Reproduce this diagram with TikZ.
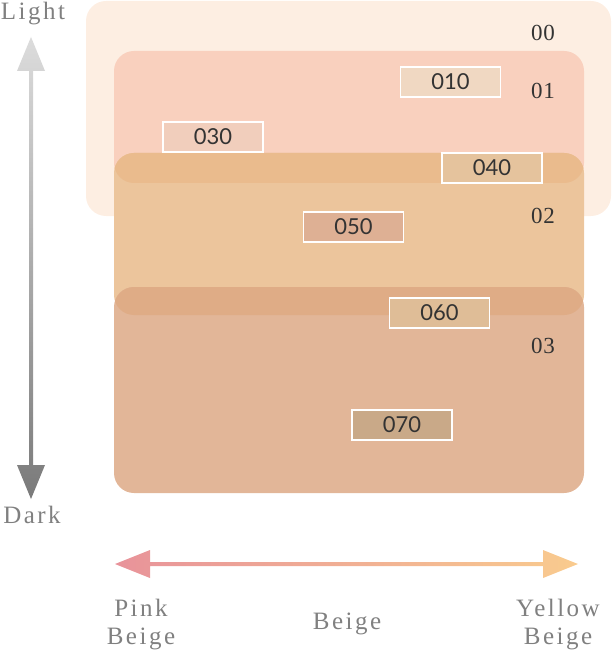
\documentclass[tikz,border=0pt]{standalone}
\usepackage{fontspec}
\newfontfamily\numfont{Lato}
\newfontfamily\levelfont[LetterSpace=4]{Liberation Serif}
\newfontfamily\lblfont[LetterSpace=10]{Liberation Serif}
\definecolor{LayerA}{HTML}{FDEEE2}
\definecolor{LayerB}{HTML}{F9D0BE}
\definecolor{LayerBC}{HTML}{EABB8D}
\definecolor{LayerC}{HTML}{ECC59C}
\definecolor{LayerCD}{HTML}{DFAC86}
\definecolor{LayerD}{HTML}{E2B698}
\definecolor{SwA}{HTML}{F0D8C2}
\definecolor{SwB}{HTML}{F1CEBC}
\definecolor{SwC}{HTML}{E5C39D}
\definecolor{SwD}{HTML}{DEB094}
\definecolor{SwE}{HTML}{DFBD97}
\definecolor{SwF}{HTML}{C9A988}
\definecolor{TxtClr}{HTML}{333333}
\definecolor{LblClr}{HTML}{808080}
\definecolor{LightClr}{HTML}{DCDCDC}
\definecolor{DarkClr}{HTML}{7A7A7A}
\definecolor{PinkClr}{HTML}{E8939A}
\definecolor{YellowClr}{HTML}{F9CB8E}
\tikzset{
  layer/.style={rounded corners=20pt},
  swatch/.style={draw=white,line width=1.2pt,minimum width=100pt,minimum height=30pt,
    inner sep=0pt,text=TxtClr,font=\numfont\fontsize{22}{22}\selectfont},
  level/.style={text=TxtClr,font=\levelfont\fontsize{23}{23}\selectfont},
  axislbl/.style={text=LblClr,align=center,
    font=\lblfont\fontsize{25}{28}\selectfont}
}

\begin{document}
\begin{tikzpicture}[x=1pt,y=-1pt]
\useasboundingbox (0,0) rectangle (612,652);

% layers
\fill[layer,fill=LayerA] (86,1) rectangle (611,216);
\fill[layer,fill=LayerB] (114,51) rectangle (584,183);
\fill[layer,fill=LayerC] (114,153) rectangle (584,315);
\begin{scope}
\clip[layer] (114,51) rectangle (584,183);
\fill[layer,fill=LayerBC] (114,153) rectangle (584,315);
\end{scope}
\fill[layer,fill=LayerD] (114,287) rectangle (584,493);
\begin{scope}
\clip[layer] (114,153) rectangle (584,315);
\fill[layer,fill=LayerCD] (114,287) rectangle (584,493);
\end{scope}

\node[level] (l00) at (543,33) {00};
\node[level] (l01) at (543,91) {01};
\node[level] (l02) at (543,216) {02};
\node[level] (l03) at (543,346) {03};

% swatches
\node[swatch,fill=SwA] (s010) at (450.5,82) {010};
\node[swatch,fill=SwB] (s030) at (213,137) {030};
\node[swatch,fill=SwC] (s040) at (492,168) {040};
\node[swatch,fill=SwD] (s050) at (353.5,227) {050};
\node[swatch,fill=SwE] (s060) at (439.5,313) {060};
\node[swatch,fill=SwF] (s070) at (402,425) {070};

% light / dark axis
\coordinate (lighttip) at (31,37);
\coordinate (darktip) at (31,499);
\shade[top color=LightClr,bottom color=DarkClr]
  (lighttip) -- ++(14,34) -- ++(-12,0) -- ++(0,394) -- ++(12,0) -- (darktip)
  -- ++(-14,-34) -- ++(12,0) -- ++(0,-394) -- ++(-12,0) -- cycle;
\node[axislbl] (light) at (33,14) {Light};
\node[axislbl] (dark) at (32,515) {Dark};

% pink / yellow axis
\coordinate (pinktip) at (115,564);
\coordinate (yellowtip) at (578,564);
\shade[left color=PinkClr,right color=YellowClr]
  (pinktip) -- ++(35,-14) -- ++(0,12) -- ++(393,0) -- ++(0,-12) -- (yellowtip)
  -- ++(-35,14) -- ++(0,-12) -- ++(-393,0) -- ++(0,12) -- cycle;
\node[axislbl] (pink) at (141,625) {Pink\\Beige};
\node[axislbl] (beige) at (347,624) {Beige};
\node[axislbl] (yellow) at (558,625) {Yellow\\Beige};

\end{tikzpicture}
\end{document}
